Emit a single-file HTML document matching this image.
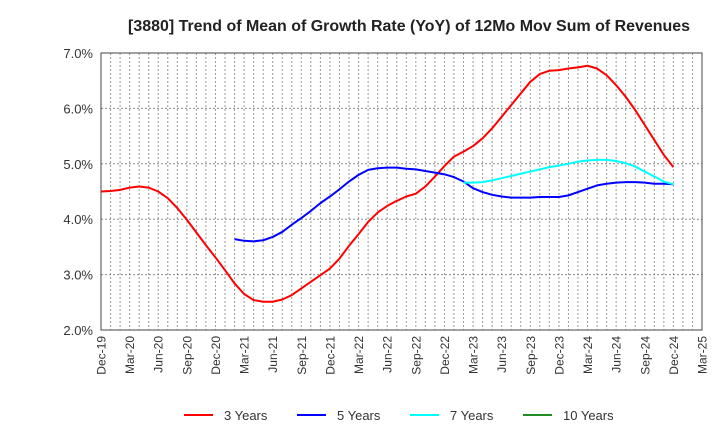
<!DOCTYPE html>
<html><head><meta charset="utf-8"><style>
body{margin:0;background:#fff;}
svg{display:block;font-family:"Liberation Sans",Arial,sans-serif;}
</style></head><body>
<svg id="chart" width="720" height="440" viewBox="0 0 720 440" xmlns="http://www.w3.org/2000/svg">
<rect width="720" height="440" fill="#fff"/>
<text x="128" y="31" font-size="15.5" font-weight="bold" fill="#222" textLength="562" lengthAdjust="spacingAndGlyphs">[3880]  Trend of Mean of Growth Rate (YoY) of 12Mo Mov Sum of Revenues</text>
<g id="grid"></g>
<g id="yticks"></g>
<g id="xticks"></g>
<g id="series"></g>
<rect x="101" y="53" width="601" height="277" fill="none" stroke="#444" stroke-width="1"/>
<g id="legend"></g>
</svg>
<script>
const xLabels=["Dec-19","Mar-20","Jun-20","Sep-20","Dec-20","Mar-21","Jun-21","Sep-21","Dec-21","Mar-22","Jun-22","Sep-22","Dec-22","Mar-23","Jun-23","Sep-23","Dec-23","Mar-24","Jun-24","Sep-24","Dec-24","Mar-25"];
const yTicks=[2,3,4,5,6,7];
const y3Start=0;
const y3=[4.50,4.51,4.53,4.57,4.59,4.57,4.50,4.38,4.20,3.99,3.76,3.53,3.31,3.08,2.84,2.65,2.54,2.51,2.51,2.55,2.63,2.75,2.87,2.99,3.11,3.29,3.52,3.73,3.95,4.12,4.24,4.33,4.41,4.46,4.59,4.77,4.96,5.13,5.22,5.32,5.46,5.64,5.85,6.06,6.27,6.48,6.62,6.68,6.69,6.72,6.74,6.77,6.72,6.60,6.42,6.21,5.97,5.70,5.43,5.16,4.94];
const y5Start=14;
const y5=[3.64,3.61,3.60,3.62,3.68,3.77,3.90,4.02,4.15,4.29,4.41,4.54,4.68,4.80,4.89,4.92,4.93,4.93,4.91,4.90,4.87,4.84,4.81,4.76,4.68,4.56,4.49,4.44,4.41,4.39,4.39,4.39,4.40,4.40,4.40,4.43,4.49,4.55,4.61,4.64,4.66,4.67,4.67,4.66,4.64,4.64,4.63];
const y7Start=38;
const y7=[4.66,4.66,4.67,4.70,4.74,4.78,4.82,4.86,4.90,4.94,4.97,5.00,5.04,5.06,5.07,5.07,5.05,5.01,4.95,4.86,4.77,4.68,4.63];
const y10Start=0;
const y10=[];
const legendNames=["3 Years","5 Years","7 Years","10 Years"];

const NS="http://www.w3.org/2000/svg";
const L=101,R=702,T=53,B=330,NM=63,YMIN=2,YMAX=7;
const xs=m=>L+(R-L)*m/NM;
const ys=v=>B-(B-T)*(v-YMIN)/(YMAX-YMIN);
function mk(tag,attrs,parent){const e=document.createElementNS(NS,tag);for(const k in attrs)e.setAttribute(k,attrs[k]);parent.appendChild(e);return e;}
const grid=document.getElementById('grid');
for(let m=1;m<NM;m++){const l=mk('line',{x1:xs(m),x2:xs(m),y1:T,y2:B,stroke:'#999','stroke-dasharray':'2,2','stroke-width':1},grid);

}
const yg=document.getElementById('yticks');
yTicks.forEach(v=>{
 if(v>YMIN&&v<YMAX){const l=mk('line',{x1:L,x2:R,y1:ys(v),y2:ys(v),stroke:'#888','stroke-dasharray':'2,2','stroke-width':1},grid);
 
 }
 const t=mk('text',{x:L-8,y:ys(v)+5,'text-anchor':'end','font-size':13,fill:'#333'},yg);
 t.textContent=v.toFixed(1)+'%';
 
 
});
const xg=document.getElementById('xticks');
xLabels.forEach((s,i)=>{const x=xs(i*3);
 const t=mk('text',{x:0,y:0,'text-anchor':'end','font-size':12,fill:'#333',transform:`translate(${x+4.5},${B+6}) rotate(-90)`},xg);
 t.textContent=s;
 
 
});
const sg=document.getElementById('series');
function draw(arr,start,color,name){if(!arr.length)return;
 const d=arr.map((v,i)=>(i?'L':'M')+xs(start+i).toFixed(2)+','+ys(v).toFixed(2)).join(' ');
 const p=mk('path',{d:d,fill:'none',stroke:color,'stroke-width':2,'stroke-linejoin':'round'},sg);
 
 }
draw(y3,y3Start,'#ff0000','line-3-years');
draw(y5,y5Start,'#0000ff','line-5-years');
draw(y7,y7Start,'#00ffff','line-7-years');
draw(y10,y10Start,'#228b22','line-10-years');
const lg=document.getElementById('legend');
const lc=['#ff0000','#0000ff','#00ffff','#228b22'];
legendNames.forEach((n,i)=>{const x0=184+i*113;
 const l=mk('line',{x1:x0,x2:x0+29,y1:415,y2:415,stroke:lc[i],'stroke-width':2},lg);
 
 
 const t=mk('text',{x:x0+40,y:420,'font-size':13,fill:'#333'},lg);
 t.textContent=n;
 
 
});
</script>
</body></html>
